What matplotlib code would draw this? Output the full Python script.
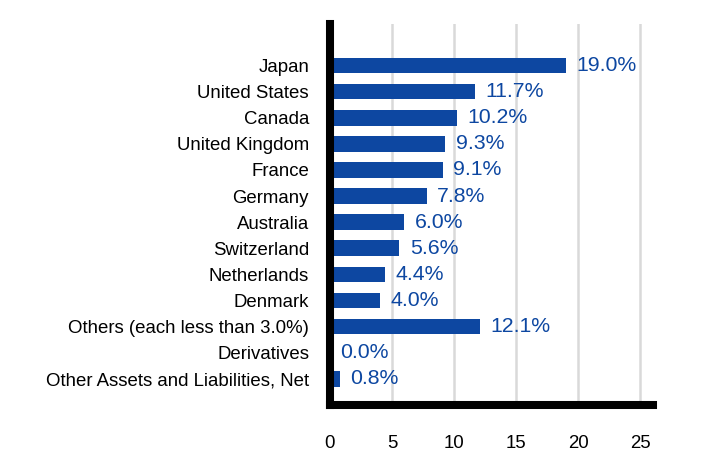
import matplotlib.pyplot as plt

categories = [
    "Japan", "United States", "Canada", "United Kingdom", "France",
    "Germany", "Australia", "Switzerland", "Netherlands", "Denmark",
    "Others (each less than 3.0%)", "Derivatives",
    "Other Assets and Liabilities, Net",
]
values = [19.0, 11.7, 10.2, 9.3, 9.1, 7.8, 6.0, 5.6, 4.4, 4.0, 12.1, 0.0, 0.8]
xticks = [0, 5, 10, 15, 20, 25]

plt.rcParams['font.family'] = ['Liberation Sans', 'DejaVu Sans']

bar_color = '#0d47a1'

fig = plt.figure(figsize=(7.08, 4.68), dpi=100)
ax = fig.add_axes([0.466, 0.135, 0.456, 0.813])

pos = list(range(len(categories)))
ax.barh(pos, values, height=0.6, color=bar_color, zorder=3)

for p, v in zip(pos, values):
    ax.text(v + 0.85, p, f"{v:.1f}%", va='center', ha='left',
            fontsize=15.3, color=bar_color, zorder=4)

ax.set_yticks(pos)
ax.set_yticklabels(categories, fontsize=13.4)
ax.set_xticks(xticks)
ax.set_xticklabels([str(t) for t in xticks], fontsize=13.4)
ax.set_xlim(0, 26)
ax.set_ylim(13.0, -1.58)

ax.tick_params(axis='both', length=0)
ax.tick_params(axis='x', pad=22)
ax.tick_params(axis='y', pad=15)

ax.grid(axis='x', color='#d9d9d9', linewidth=1.8, zorder=0)
ax.set_axisbelow(True)

for side in ['top', 'right']:
    ax.spines[side].set_visible(False)
for side in ['left', 'bottom']:
    ax.spines[side].set_linewidth(5.8)
    ax.spines[side].set_color('black')
    ax.spines[side].set_zorder(5)

fig.savefig('out.png', dpi=100)
